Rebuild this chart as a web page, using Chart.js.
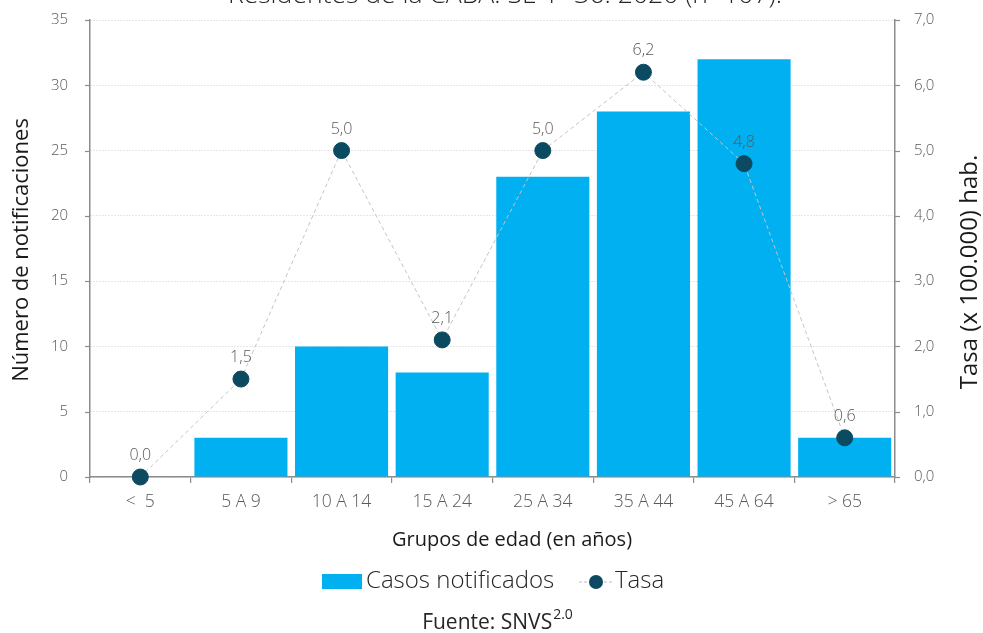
<!DOCTYPE html>
<html>
<head>
<meta charset="utf-8">
<script src="https://cdn.jsdelivr.net/npm/chart.js@4/dist/chart.umd.min.js"></script>
<style>
  html, body { margin: 0; padding: 0; background: #fff; }
  #wrap { width: 983px; height: 633px; }
</style>
</head>
<body>
<div id="wrap"><canvas id="edadChart" width="983" height="633"></canvas></div>
<script>
// ── Casos y tasa por grupo de edad ─────────────────────────
const categorias = ['<  5', '5 A 9', '10 A 14', '15 A 24', '25 A 34', '35 A 44', '45 A 64', '> 65'];
const casos      = [0, 3, 10, 8, 23, 28, 32, 3];
const tasa       = [0.0, 1.5, 5.0, 2.1, 5.0, 6.2, 4.8, 0.6];
const casosMax   = 35;
const tasaMax    = 7;

const FONT   = '"Open Sans", Lato, sans-serif';
const AZUL   = '#00b0f0';
const PUNTO  = '#0c4a62';
const GRIS   = '#595959';
const EJE    = '#8c8c8c';

const coma = v => v.toFixed(1).replace('.', ',');
const f = (size, w) => `${w || 300} ${size}px ${FONT}`;

// sin márgenes extra por las etiquetas de los extremos
const sinPadding = s => { s.paddingTop = 0; s.paddingBottom = 0; };

// textos y marcas dibujados a mano
const extras = {
  id: 'extras',
  afterDraw(chart) {
    const { ctx, chartArea: a, scales } = chart;
    ctx.save();

    // título (queda cortado arriba)
    ctx.fillStyle = '#262626';
    ctx.font = f(26.5);
    ctx.textAlign = 'center';
    ctx.textBaseline = 'alphabetic';
    ctx.fillText('Residentes de la CABA. SE 1ª 36. 2020 (n=107).', 505, 3);

    // marcas de los ejes verticales
    ctx.strokeStyle = EJE;
    ctx.lineWidth = 1.2;
    scales.y.ticks.forEach(t => {
      const y = Math.round(scales.y.getPixelForValue(t.value)) + 0.5;
      ctx.beginPath(); ctx.moveTo(a.left - 5, y); ctx.lineTo(a.left, y); ctx.stroke();
    });
    scales.y1.ticks.forEach(t => {
      const y = Math.round(scales.y1.getPixelForValue(t.value)) + 0.5;
      ctx.beginPath(); ctx.moveTo(a.right, y); ctx.lineTo(a.right + 5, y); ctx.stroke();
    });

    // títulos de ejes
    ctx.fillStyle = '#1a1a1a';
    ctx.font = f(22, 400);
    ctx.textBaseline = 'middle';
    ctx.save();
    ctx.translate(22, 250);
    ctx.rotate(-Math.PI / 2);
    ctx.fillText('Número de notificaciones', 0, 0);
    ctx.restore();
    ctx.font = f(24, 400);
    ctx.save();
    ctx.translate(970, 272);
    ctx.rotate(-Math.PI / 2);
    ctx.fillText('Tasa (x 100.000) hab.', 0, 0);
    ctx.restore();

    ctx.font = f(20, 400);
    ctx.fillText('Grupos de edad (en años)', 512, 540);

    // leyenda
    ctx.fillStyle = AZUL;
    ctx.fillRect(322, 574, 40, 15);
    ctx.fillStyle = '#262626';
    ctx.font = f(24);
    ctx.textAlign = 'left';
    ctx.fillText('Casos notificados', 366, 581);
    ctx.strokeStyle = '#bdbdbd';
    ctx.lineWidth = 1;
    ctx.setLineDash([3, 2]);
    ctx.beginPath(); ctx.moveTo(579, 582); ctx.lineTo(613, 582); ctx.stroke();
    ctx.setLineDash([]);
    ctx.fillStyle = PUNTO;
    ctx.beginPath(); ctx.arc(596, 582, 7, 0, Math.PI * 2); ctx.fill();
    ctx.fillStyle = '#262626';
    ctx.fillText('Tasa', 615, 581);

    // fuente
    ctx.font = f(21, 400);
    ctx.textAlign = 'left';
    const fuente = 'Fuente: SNVS';
    const w = ctx.measureText(fuente).width;
    ctx.font = f(14, 400);
    const ws = ctx.measureText('2.0').width;
    const x0 = 497 - (w + ws) / 2;
    ctx.font = f(21, 400);
    ctx.fillText(fuente, x0, 623);
    ctx.font = f(14, 400);
    ctx.fillText('2.0', x0 + w + 1, 615);

    ctx.restore();
  },
  afterDatasetsDraw(chart) {
    // valores de la tasa sobre cada punto
    const { ctx } = chart;
    const meta = chart.getDatasetMeta(0);
    ctx.save();
    ctx.fillStyle = GRIS;
    ctx.font = f(16);
    ctx.textAlign = 'center';
    ctx.textBaseline = 'alphabetic';
    meta.data.forEach((p, i) => {
      ctx.fillText(coma(tasa[i]), p.x, p.y - 17);
    });
    ctx.restore();
  }
};

new Chart(document.getElementById('edadChart'), {
  type: 'bar',
  data: {
    labels: categorias,
    datasets: [
      {
        type: 'line',
        label: 'Tasa',
        data: tasa,
        yAxisID: 'y1',
        borderColor: '#c4c4c4',
        borderWidth: 1,
        borderDash: [4, 3],
        pointRadius: 8,
        pointBackgroundColor: PUNTO,
        pointBorderColor: PUNTO,
        tension: 0,
        clip: false,
        order: 0,
      },
      {
        label: 'Casos notificados',
        data: casos,
        yAxisID: 'y',
        backgroundColor: AZUL,
        barPercentage: 0.925,
        categoryPercentage: 1,
        order: 1,
      },
    ],
  },
  options: {
    responsive: false,
    maintainAspectRatio: false,
    animation: false,
    layout: { padding: { top: 20, left: 0, right: 0, bottom: 0 } },
    plugins: { legend: { display: false }, tooltip: { enabled: false } },
    scales: {
      x: {
        offset: true,
        grid: { display: true, drawOnChartArea: false, offset: true, color: EJE, lineWidth: 1.2, tickLength: 6 },
        border: { display: true, color: EJE, width: 1.5 },
        ticks: { color: GRIS, font: { family: FONT, size: 17.5, weight: 300 }, padding: 9, maxRotation: 0 },
        afterFit: s => { s.height = 156; s.paddingLeft = 0; s.paddingRight = 0; },
      },
      y: {
        position: 'left',
        min: 0, max: casosMax,
        grid: { color: '#cfcfcf', lineWidth: 1, drawTicks: false },
        border: { display: true, color: EJE, width: 1.5, dash: [1, 2] },
        ticks: { stepSize: 5, color: GRIS, font: { family: FONT, size: 15, weight: 300 }, padding: 22 },
        afterFit: s => { s.width = 90; sinPadding(s); },
      },
      y1: {
        position: 'right',
        min: 0, max: tasaMax,
        grid: { display: false, drawTicks: false },
        border: { display: true, color: EJE, width: 1.5 },
        ticks: { stepSize: 1, color: GRIS, font: { family: FONT, size: 15, weight: 300 }, padding: 19, callback: v => coma(v) },
        afterFit: s => { s.width = 88; sinPadding(s); },
      },
    },
  },
  plugins: [extras],
});
</script>
</body>
</html>
